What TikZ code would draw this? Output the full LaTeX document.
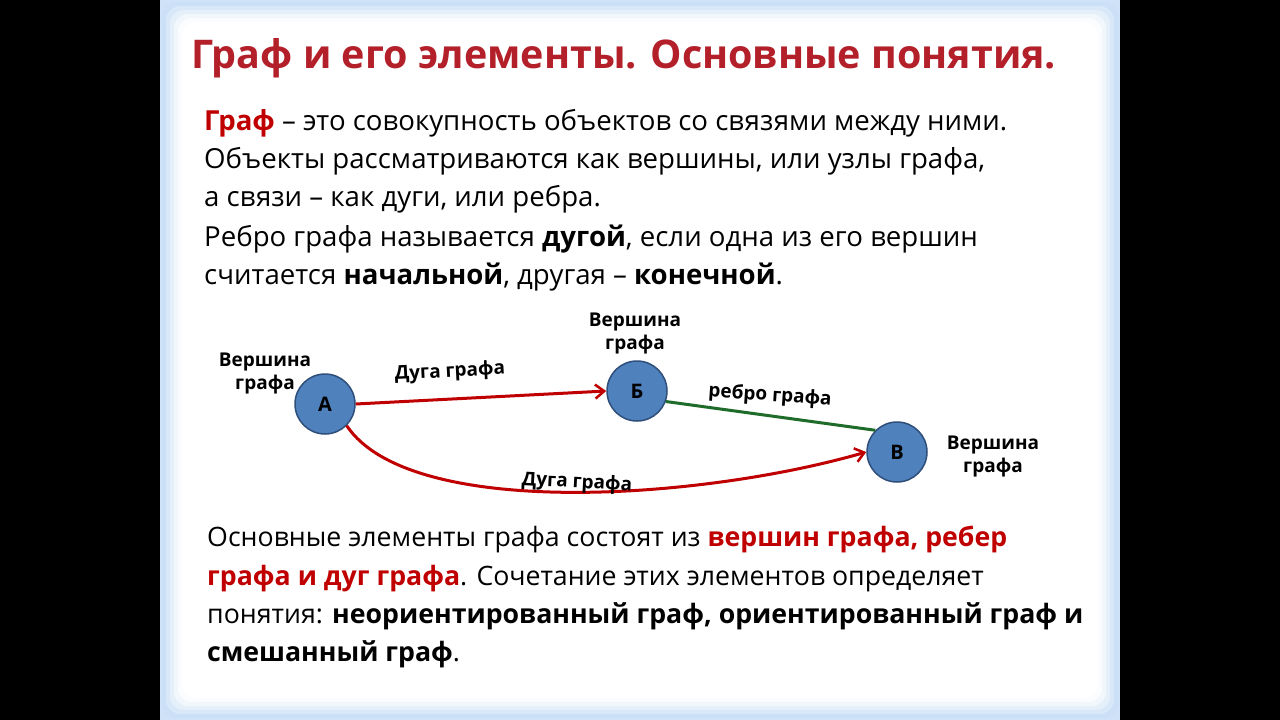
\documentclass[tikz,border=0pt]{standalone}
\usepackage{fontspec}
\setmainfont{Open Sans}
\usetikzlibrary{arrows.meta}
\definecolor{dred}{HTML}{C00000}
\definecolor{ttl}{HTML}{B3202A}
\definecolor{vfill}{HTML}{4F81BD}
\definecolor{vdraw}{HTML}{2F4F7A}
\definecolor{egreen}{HTML}{1F6B2A}
\definecolor{glow}{HTML}{A9CBF0}
\tikzset{
 vert/.style={circle,fill=vfill,draw=vdraw,line width=1.5pt,minimum size=60pt,inner sep=0pt,font=\fontsize{20}{20}\selectfont\bfseries},
 lbl/.style={font=\fontsize{19}{23}\selectfont\bfseries,align=center,inner sep=1pt},
 txt/.style={anchor=base west,inner sep=0pt,font=\fontsize{27.6}{30}\selectfont},
 txtb/.style={anchor=base west,inner sep=0pt,font=\fontsize{26.7}{30}\selectfont},
 arc/.style={draw=dred,line width=3pt,-{Straight Barb[length=9pt,width=14pt,line width=2.5pt]}}
}
\begin{document}
\begin{tikzpicture}[x=1pt,y=-1pt]
\useasboundingbox (0,0) rectangle (1280,720);
\fill[black] (0,0) rectangle (1280,720);
\fill[glow!55] (160,0) rectangle (1120,720);
\foreach \i/\c in {0/60,4/45,8/30,12/15,16/5,20/0}{
 \fill[glow!\c!white,rounded corners=14pt] (162+\i,2+\i) rectangle (1118-\i,718-\i);}
\node[anchor=center,text=ttl,font=\fontsize{39.5}{42}\selectfont\bfseries] (title) at (624,58) {Граф и его элементы. Основные понятия.};
\node[txt] (l1) at (204,130) {\textcolor{dred}{\bfseries Граф} – это совокупность объектов со связями между ними.};
\node[txt] (l2) at (204,168) {Объекты рассматриваются как вершины, или узлы графа,};
\node[txt] (l3) at (204,206) {а связи – как дуги, или ребра.};
\node[txt] (l4) at (204,246) {Ребро графа называется \textbf{дугой}, если одна из его вершин};
\node[txt] (l5) at (204,284) {считается \textbf{начальной}, другая – \textbf{конечной}.};
\node[vert] (A) at (325,404) {А};
\node[vert] (B) at (637,391) {Б};
\node[vert] (C) at (897,452) {В};
\draw[arc] (A.east) -- (B.west);
\draw[arc] (A.-45) .. controls (410,520) and (700,500) .. (C.west);
\draw[egreen,line width=3pt] (B.-20) -- (C.north west);
\node[lbl] (vA) at (265,373) {Вершина\\графа};
\node[lbl] (vB) at (635,333) {Вершина\\графа};
\node[lbl] (vC) at (993,456) {Вершина\\графа};
\node[lbl,rotate=3] (d1) at (450,372) {Дуга графа};
\node[lbl,rotate=-4] (r1) at (770,396) {ребро графа};
\node[lbl,rotate=-3] (d2) at (577,483) {Дуга графа};
\node[txtb] (m1) at (207,546) {Основные элементы графа состоят из \textcolor{dred}{\bfseries вершин графа, ребер}};
\node[txtb] (m2) at (207,585) {\textcolor{dred}{\bfseries графа и дуг графа}. Сочетание этих элементов определяет};
\node[txtb] (m3) at (207,623) {понятия: \textbf{неориентированный граф, ориентированный граф и}};
\node[txtb] (m4) at (207,661) {\textbf{смешанный граф}.};
\end{tikzpicture}
\end{document}
